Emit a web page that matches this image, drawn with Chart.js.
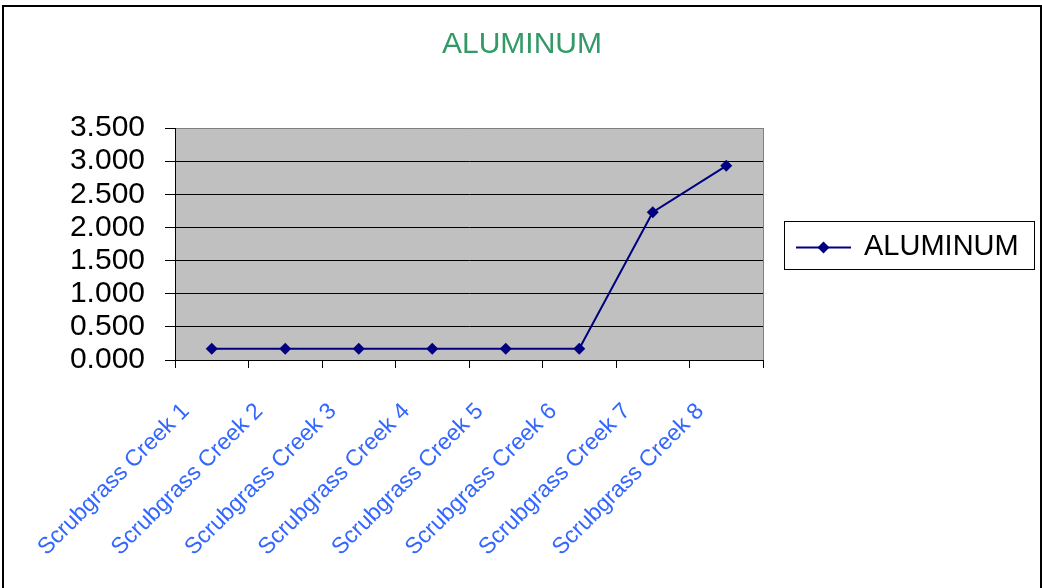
<!DOCTYPE html>
<html>
<head>
<meta charset="utf-8">
<title>ALUMINUM</title>
<script src="https://cdn.jsdelivr.net/npm/chart.js@4/dist/chart.umd.min.js"></script>
<style>
  html, body { margin: 0; padding: 0; background: #ffffff; }
  #wrap { width: 1042px; height: 588px; position: relative; }
</style>
</head>
<body>
<div id="wrap"><canvas id="chart"></canvas></div>
<script>
// Sampling sites along Scrubgrass Creek
const sites = [
  'Scrubgrass Creek 1', 'Scrubgrass Creek 2', 'Scrubgrass Creek 3', 'Scrubgrass Creek 4',
  'Scrubgrass Creek 5', 'Scrubgrass Creek 6', 'Scrubgrass Creek 7', 'Scrubgrass Creek 8'
];
// Aluminum concentration at each site
const aluminum = [0.17, 0.17, 0.17, 0.17, 0.17, 0.17, 2.23, 2.93];
// Value axis ticks
const yTicks = [0, 0.5, 1, 1.5, 2, 2.5, 3, 3.5];

const FONT = '"Liberation Sans", Arial, Helvetica, sans-serif';
const NAVY = '#000080';
const TITLE = 'ALUMINUM';

// Plot background, plot border, outer frame, title and the boxed legend
const decor = {
  id: 'decor',
  beforeDraw(chart) {
    const { ctx, chartArea: a } = chart;
    ctx.save();
    ctx.fillStyle = '#ffffff';
    ctx.fillRect(0, 0, chart.width, chart.height);
    ctx.fillStyle = '#C0C0C0';
    ctx.fillRect(a.left, a.top, a.right - a.left, a.bottom - a.top);
    ctx.restore();
  },
  afterDraw(chart) {
    const { ctx, chartArea: a } = chart;
    ctx.save();
    // gray right edge of the plot
    ctx.strokeStyle = '#808080';
    ctx.lineWidth = 1;
    ctx.beginPath();
    ctx.moveTo(Math.round(a.right) + 0.5, a.top);
    ctx.lineTo(Math.round(a.right) + 0.5, a.bottom);
    ctx.stroke();

    // outer frame
    ctx.strokeStyle = '#000000';
    ctx.lineWidth = 2;
    ctx.beginPath();
    ctx.moveTo(3, chart.height + 5);
    ctx.lineTo(3, 6);
    ctx.lineTo(1041, 6);
    ctx.lineTo(1041, chart.height + 5);
    ctx.stroke();

    // title, centred on the whole chart
    ctx.fillStyle = '#339966';
    ctx.font = '30px ' + FONT;
    ctx.textAlign = 'center';
    ctx.textBaseline = 'middle';
    ctx.fillText(TITLE, 522, 45);

    // legend
    const ds = chart.data.datasets[0];
    const bx = 784.5, by = 221.5, bw = 250, bh = 48;
    ctx.lineWidth = 1;
    ctx.strokeStyle = '#000000';
    ctx.strokeRect(bx, by, bw, bh);
    const my = by + bh / 2 + 2;
    ctx.strokeStyle = ds.borderColor;
    ctx.lineWidth = 2;
    ctx.beginPath();
    ctx.moveTo(796, my);
    ctx.lineTo(851, my);
    ctx.stroke();
    ctx.fillStyle = ds.pointBackgroundColor;
    ctx.beginPath();
    ctx.moveTo(823.5, my - 6);
    ctx.lineTo(829.5, my);
    ctx.lineTo(823.5, my + 6);
    ctx.lineTo(817.5, my);
    ctx.closePath();
    ctx.fill();
    ctx.fillStyle = '#000000';
    ctx.font = '29px ' + FONT;
    ctx.textBaseline = 'middle';
    ctx.textAlign = 'left';
    ctx.fillText(ds.label, 864, my - 1);
    ctx.restore();
  }
};

new Chart(document.getElementById('chart'), {
  type: 'line',
  data: {
    labels: sites,
    datasets: [{
      label: 'ALUMINUM',
      data: aluminum,
      borderColor: NAVY,
      backgroundColor: NAVY,
      borderWidth: 2,
      tension: 0,
      pointStyle: 'rectRot',
      pointRadius: 6,
      pointHoverRadius: 6,
      pointBackgroundColor: NAVY,
      pointBorderColor: NAVY,
      pointBorderWidth: 0
    }]
  },
  options: {
    responsive: true,
    maintainAspectRatio: false,
    animation: false,
    events: [],
    layout: { padding: { left: 0, right: 279, top: 128, bottom: 0 } },
    plugins: {
      legend: { display: false },
      tooltip: { enabled: false },
      title: { display: false }
    },
    scales: {
      x: {
        offset: true,
        grid: {
          offset: true,
          drawOnChartArea: false,
          drawTicks: true,
          tickLength: 8,
          tickColor: '#000000'
        },
        border: { color: '#000000', width: 1 },
        ticks: {
          color: '#3366FF',
          font: { family: FONT, size: 23 },
          minRotation: 45,
          maxRotation: 45,
          autoSkip: false,
          padding: 30,
          labelOffset: -26
        },
        afterFit(scale) { scale.height = 228; }
      },
      y: {
        min: 0,
        max: 3.5,
        afterBuildTicks(scale) { scale.ticks = yTicks.map(v => ({ value: v })); },
        grid: {
          color: ctx => (ctx.tick && ctx.tick.value === 3.5) ? '#808080' : '#000000',
          tickColor: '#000000',
          tickLength: 10,
          lineWidth: 1
        },
        border: { color: '#000000', width: 1 },
        ticks: {
          color: '#000000',
          font: { family: FONT, size: 30 },
          padding: 20,
          autoSkip: false,
          callback: v => Number(v).toFixed(3)
        },
        afterFit(scale) { scale.width = 175; }
      }
    }
  },
  plugins: [decor]
});
</script>
</body>
</html>
